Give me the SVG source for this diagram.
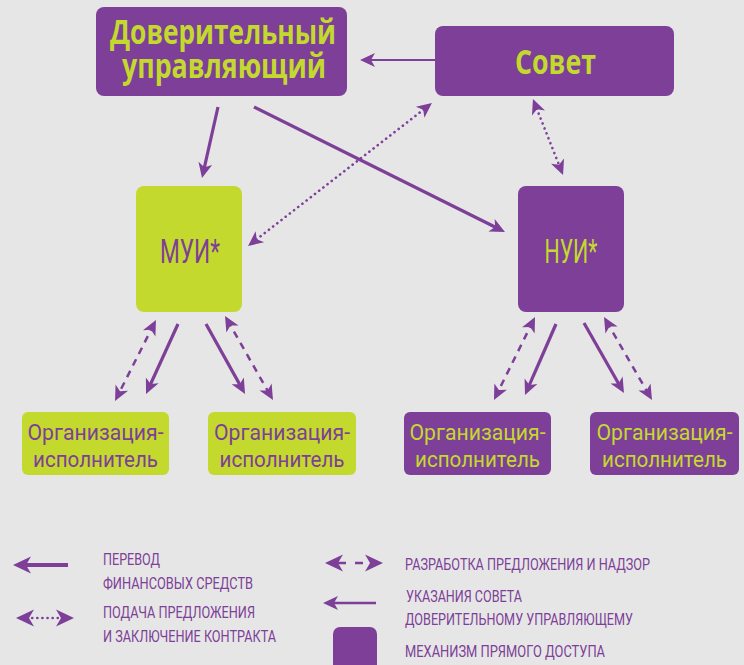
<svg xmlns="http://www.w3.org/2000/svg" width="744" height="665" viewBox="0 0 744 665">
<style>
.bg{fill:#e6e6e6}
.p{fill:#7d3f98}
.l{fill:#c4d92e}
.t{font-family:"Open Sans","Liberation Sans",sans-serif;text-anchor:middle}
.tb{font-weight:700;font-size:34px}
.tm{font-family:Roboto,"Open Sans",sans-serif;font-weight:400;font-size:33px}
.to{font-family:Roboto,"Open Sans",sans-serif;font-weight:400;font-size:22.5px}
.lg{font-family:Roboto,"Open Sans",sans-serif;font-size:16.5px;fill:#7d3f98}
.c{fill:none;stroke:#7d3f98}
.solid{stroke-width:3.2;marker-end:url(#ah)}
.thin{stroke-width:2.2;marker-end:url(#ah)}
.dash{stroke-width:2.5;stroke-dasharray:7 6;marker-start:url(#ah);marker-end:url(#ah)}
.dot{stroke-width:2.6;stroke-dasharray:0.1 5.2;stroke-linecap:round;marker-start:url(#ah);marker-end:url(#ah)}
</style>
<defs>
<marker id="ah" viewBox="-12 -8 18 16" refX="0" refY="0" markerWidth="18" markerHeight="16" markerUnits="userSpaceOnUse" orient="auto-start-reverse">
<path d="M5,0 L-10,-7 L-6,0 L-10,7 z" fill="#7d3f98"/>
</marker>
<marker id="ahL" viewBox="-14 -10 22 20" refX="0" refY="0" markerWidth="22" markerHeight="20" markerUnits="userSpaceOnUse" orient="auto-start-reverse">
<path d="M6,0 L-12,-8.5 L-7,0 L-12,8.5 z" fill="#7d3f98"/>
</marker>
</defs>
<rect class="bg" x="0" y="0" width="744" height="665"/>

<g id="connectors">
<path class="c solid" d="M218,107 L203.1,173.1"/>
<path class="c solid" d="M254,107 L500.5,229.8"/>
<path class="c thin" d="M435,60 L365,60"/>
<path class="c dot" d="M428,106.1 L252,242.9"/>
<path class="c dot" d="M534.8,103.7 L561.2,170.4"/>
<path class="c dash" d="M153.7,324.5 L117.3,396.5"/>
<path class="c solid" d="M178,324 L148.1,389.5"/>
<path class="c solid" d="M206,324 L242.6,389.6"/>
<path class="c dash" d="M227.5,320.3 L270.5,395.7"/>
<path class="c dash" d="M532.8,321.5 L496.2,395.5"/>
<path class="c solid" d="M556,324 L527,390.4"/>
<path class="c solid" d="M584,323 L621.5,388.7"/>
<path class="c dash" d="M606.5,321.3 L649.5,395.7"/>
</g>

<g id="trustee">
<rect class="p" x="96" y="7" width="251" height="89" rx="8"/>
<text class="t tb l" x="223" y="43.5" textLength="226" lengthAdjust="spacingAndGlyphs">Доверительный</text>
<text class="t tb l" x="224" y="77.5" textLength="204" lengthAdjust="spacingAndGlyphs">управляющий</text>
</g>
<g id="council">
<rect class="p" x="435" y="26" width="239" height="70" rx="8"/>
<text class="t tb l" x="555.5" y="74" textLength="81" lengthAdjust="spacingAndGlyphs" font-size="35">Совет</text>
</g>
<g id="mui">
<rect class="l" x="136" y="186" width="106" height="126" rx="8"/>
<text class="t tm p" x="190" y="263" textLength="60" lengthAdjust="spacingAndGlyphs">МУИ*</text>
</g>
<g id="nui">
<rect class="p" x="518" y="186" width="106" height="126" rx="8"/>
<text class="t tm l" x="571" y="263" textLength="53" lengthAdjust="spacingAndGlyphs">НУИ*</text>
</g>
<g id="org1">
<rect class="l" x="22" y="412" width="147" height="63" rx="6"/>
<text class="t to p" x="95.5" y="440" textLength="136" lengthAdjust="spacingAndGlyphs">Организация-</text>
<text class="t to p" x="95.5" y="467" textLength="125" lengthAdjust="spacingAndGlyphs">исполнитель</text>
</g>
<g id="org2">
<rect class="l" x="208" y="412" width="148" height="63" rx="6"/>
<text class="t to p" x="282" y="440" textLength="136" lengthAdjust="spacingAndGlyphs">Организация-</text>
<text class="t to p" x="282" y="467" textLength="125" lengthAdjust="spacingAndGlyphs">исполнитель</text>
</g>
<g id="org3">
<rect class="p" x="404" y="412" width="147" height="63" rx="6"/>
<text class="t to l" x="477.5" y="440" textLength="136" lengthAdjust="spacingAndGlyphs">Организация-</text>
<text class="t to l" x="477.5" y="467" textLength="125" lengthAdjust="spacingAndGlyphs">исполнитель</text>
</g>
<g id="org4">
<rect class="p" x="590" y="412" width="149" height="63" rx="6"/>
<text class="t to l" x="664.5" y="440" textLength="136" lengthAdjust="spacingAndGlyphs">Организация-</text>
<text class="t to l" x="664.5" y="467" textLength="125" lengthAdjust="spacingAndGlyphs">исполнитель</text>
</g>

<g id="legend">
<path class="c" stroke-width="4" marker-end="url(#ahL)" d="M68,565 L19,565"/>
<text class="lg" x="103" y="565" textLength="57" lengthAdjust="spacingAndGlyphs">ПЕРЕВОД</text>
<text class="lg" x="103" y="589" textLength="150" lengthAdjust="spacingAndGlyphs">ФИНАНСОВЫХ СРЕДСТВ</text>
<path class="c" stroke-width="2.6" stroke-dasharray="0.1 5" stroke-linecap="round" marker-start="url(#ahL)" marker-end="url(#ahL)" d="M22,618 L68,618"/>
<text class="lg" x="103" y="618" textLength="152" lengthAdjust="spacingAndGlyphs">ПОДАЧА ПРЕДЛОЖЕНИЯ</text>
<text class="lg" x="103" y="642" textLength="173" lengthAdjust="spacingAndGlyphs">И ЗАКЛЮЧЕНИЕ КОНТРАКТА</text>
<path class="c" stroke-width="2.6" stroke-dasharray="8 9" stroke-dashoffset="-7" marker-start="url(#ahL)" marker-end="url(#ahL)" d="M331,563 L377,563"/>
<text class="lg" x="405" y="570" textLength="245" lengthAdjust="spacingAndGlyphs">РАЗРАБОТКА ПРЕДЛОЖЕНИЯ И НАДЗОР</text>
<path class="c" stroke-width="2.4" marker-end="url(#ah)" d="M376,603 L328,603"/>
<text class="lg" x="406" y="602" textLength="116" lengthAdjust="spacingAndGlyphs">УКАЗАНИЯ СОВЕТА</text>
<text class="lg" x="405" y="625" textLength="228" lengthAdjust="spacingAndGlyphs">ДОВЕРИТЕЛЬНОМУ УПРАВЛЯЮЩЕМУ</text>
<rect class="p" x="333" y="627" width="44" height="44" rx="7"/>
<text class="lg" x="405" y="657" textLength="200" lengthAdjust="spacingAndGlyphs">МЕХАНИЗМ ПРЯМОГО ДОСТУПА</text>
</g>
</svg>
